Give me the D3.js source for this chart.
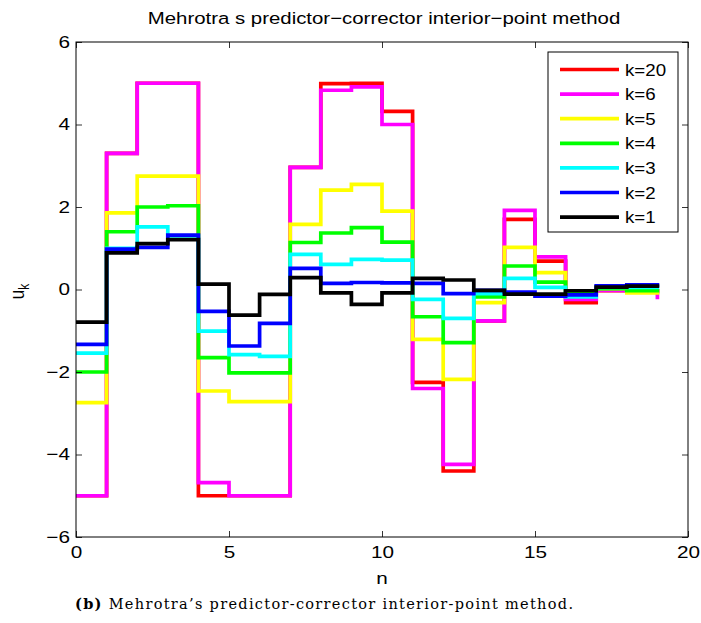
<!DOCTYPE html>
<html>
<head>
<meta charset="utf-8">
<script src="https://cdn.jsdelivr.net/npm/d3@7"></script>
<style>
  body { margin: 0; background: #fff; }
  svg { display: block; }
</style>
</head>
<body>
<div id="chart"></div>
<script>
// sample index n = 0..19
const n = d3.range(20);

// one array per iteration
const k20 = [-5.0, 3.30, 5.0, 5.0, -5.0, -5.0, -5.0, 2.96, 4.99, 5.0, 4.32, -2.25, -4.40, -0.76, 1.70, 0.69, -0.32, -0.03, -0.03, -0.05];
const k6  = [-5.0, 3.30, 5.0, 5.0, -4.68, -5.0, -5.0, 2.96, 4.83, 4.91, 4.0, -2.40, -4.24, -0.76, 1.92, 0.79, -0.24, -0.02, -0.03, -0.19];
const k5  = [-2.74, 1.86, 2.75, 2.75, -2.46, -2.72, -2.72, 1.58, 2.41, 2.55, 1.90, -1.21, -2.18, -0.32, 1.02, 0.41, -0.10, 0.02, -0.08, -0.08];
const k4  = [-2.0, 1.40, 2.0, 2.03, -1.65, -2.02, -2.02, 1.14, 1.37, 1.50, 1.15, -0.66, -1.29, -0.18, 0.57, 0.18, -0.10, 0.02, -0.03, -0.03];
const k3  = [-1.54, 1.0, 1.52, 1.30, -1.01, -1.58, -1.62, 0.85, 0.61, 0.73, 0.71, -0.24, -0.70, -0.10, 0.27, 0.05, -0.18, 0.05, 0.05, 0.05];
const k2  = [-1.33, 0.98, 1.02, 1.32, -0.53, -1.37, -0.82, 0.51, 0.15, 0.17, 0.16, 0.15, -0.10, -0.02, -0.06, -0.16, -0.13, 0.09, 0.11, 0.11];
const k1  = [-0.79, 0.89, 1.11, 1.21, 0.13, -0.62, -0.12, 0.29, -0.08, -0.36, -0.08, 0.27, 0.23, -0.02, -0.11, -0.11, -0.03, 0.06, 0.08, 0.08];

const seriesNames = ["k=20", "k=6", "k=5", "k=4", "k=3", "k=2", "k=1"];
const seriesValues = [k20, k6, k5, k4, k3, k2, k1];
const seriesColors = ["#ff0000", "#ff00ff", "#ffff00", "#00ff00", "#00ffff", "#0000ff", "#000000"];

const xTicks = [0, 5, 10, 15, 20];
const yTicks = [-6, -4, -2, 0, 2, 4, 6];

const width = 701, height = 623;
const margin = { left: 76, right: 13, top: 42, bottom: 86 };
const font = "'Liberation Sans', Arial, sans-serif";
// the source figure was stretched sideways, so text is widened a bit
const stretch = 1.22;

const svg = d3.select("#chart").append("svg")
  .attr("width", width)
  .attr("height", height);

const x = d3.scaleLinear().domain([0, 20]).range([margin.left, width - margin.right]);
const y = d3.scaleLinear().domain([-6, 6]).range([height - margin.bottom, margin.top]);

svg.append("defs").append("clipPath").attr("id", "clip")
  .append("rect")
  .attr("x", x(0)).attr("y", y(6))
  .attr("width", x(20) - x(0)).attr("height", y(-6) - y(6));

// stairs lines, drawn k=20 first so k=1 ends up on top
const line = d3.line()
  .x((d) => x(d[0]))
  .y((d) => y(d[1]))
  .curve(d3.curveStepAfter);

const plot = svg.append("g").attr("clip-path", "url(#clip)");
seriesValues.forEach((vals, i) => {
  plot.append("path")
    .datum(n.map((v, j) => [v, vals[j]]))
    .attr("d", line)
    .attr("fill", "none")
    .attr("stroke", seriesColors[i])
    .attr("stroke-width", 3.7)
    .attr("stroke-linejoin", "miter")
    .attr("stroke-linecap", "square");
});

// axes, matlab style: ticks inside on all four sides
const tickLen = 6;
const axisStyle = (g) => {
  g.selectAll(".domain").remove();
  g.selectAll("line").attr("stroke", "#000").attr("stroke-width", 0.8);
  g.selectAll("text")
    .attr("font-family", font).attr("font-size", 17).attr("fill", "#000")
    .attr("transform", `scale(${stretch},1)`);
};

svg.append("g")
  .attr("transform", `translate(0,${y(-6)})`)
  .call(d3.axisBottom(x).tickValues(xTicks).tickSizeInner(-tickLen).tickSizeOuter(0).tickPadding(9))
  .call(axisStyle);

svg.append("g")
  .attr("transform", `translate(0,${y(6)})`)
  .call(d3.axisTop(x).tickValues(xTicks).tickSizeInner(-tickLen).tickSizeOuter(0).tickFormat(""))
  .call(axisStyle);

svg.append("g")
  .attr("transform", `translate(${x(0)},0)`)
  .call(d3.axisLeft(y).tickValues(yTicks).tickSizeInner(-tickLen).tickSizeOuter(0)
    .tickFormat((d) => d < 0 ? "\u2212" + Math.abs(d) : d))
  .call(axisStyle)
  .call((g) => g.selectAll("text").attr("x", -6 / stretch));

svg.append("g")
  .attr("transform", `translate(${x(20)},0)`)
  .call(d3.axisRight(y).tickValues(yTicks).tickSizeInner(-tickLen).tickSizeOuter(0).tickFormat(""))
  .call(axisStyle);

svg.append("rect")
  .attr("x", x(0)).attr("y", y(6))
  .attr("width", x(20) - x(0)).attr("height", y(-6) - y(6))
  .attr("fill", "none")
  .attr("stroke", "#000")
  .attr("stroke-width", 1);

// title and axis labels
svg.append("text")
  .attr("transform", `translate(${(x(0) + x(20)) / 2 + 2},24) scale(1.2,1)`)
  .attr("text-anchor", "middle")
  .attr("font-family", font).attr("font-size", 17)
  .text("Mehrotra s predictor\u2212corrector interior\u2212point method");

svg.append("text")
  .attr("transform", `translate(${(x(0) + x(20)) / 2},584) scale(${stretch},1)`)
  .attr("text-anchor", "middle")
  .attr("font-family", font).attr("font-size", 17)
  .text("n");

const ylab = svg.append("text")
  .attr("transform", `translate(24,${y(0) + 2}) rotate(-90) scale(1,${stretch})`)
  .attr("text-anchor", "middle")
  .attr("font-family", font).attr("font-size", 17);
ylab.append("tspan").text("u");
ylab.append("tspan").attr("font-size", 12).attr("dy", 4).text("k");

// legend
const lg = svg.append("g");
lg.append("rect")
  .attr("x", 548).attr("y", 52)
  .attr("width", 130).attr("height", 180)
  .attr("fill", "#fff")
  .attr("stroke", "#000")
  .attr("stroke-width", 1);

seriesNames.forEach((name, i) => {
  const ly = 69.5 + i * 24.6;
  lg.append("line")
    .attr("x1", 560).attr("x2", 619)
    .attr("y1", ly).attr("y2", ly)
    .attr("stroke", seriesColors[i])
    .attr("stroke-width", 3.7);
  lg.append("text")
    .attr("transform", `translate(625,${ly + 6}) scale(1.17,1)`)
    .attr("font-family", font).attr("font-size", 16)
    .text(name);
});

// figure caption below the plot
const cap = svg.append("text")
  .attr("x", 75).attr("y", 609)
  .attr("font-family", "'DejaVu Serif', 'Liberation Serif', serif")
  .attr("font-size", 14.5)
  .attr("textLength", 498)
  .attr("lengthAdjust", "spacing");
cap.append("tspan").attr("font-weight", "bold").text("(b)");
cap.append("tspan").text(" Mehrotra\u2019s predictor-corrector interior-point method.");
</script>
</body>
</html>
